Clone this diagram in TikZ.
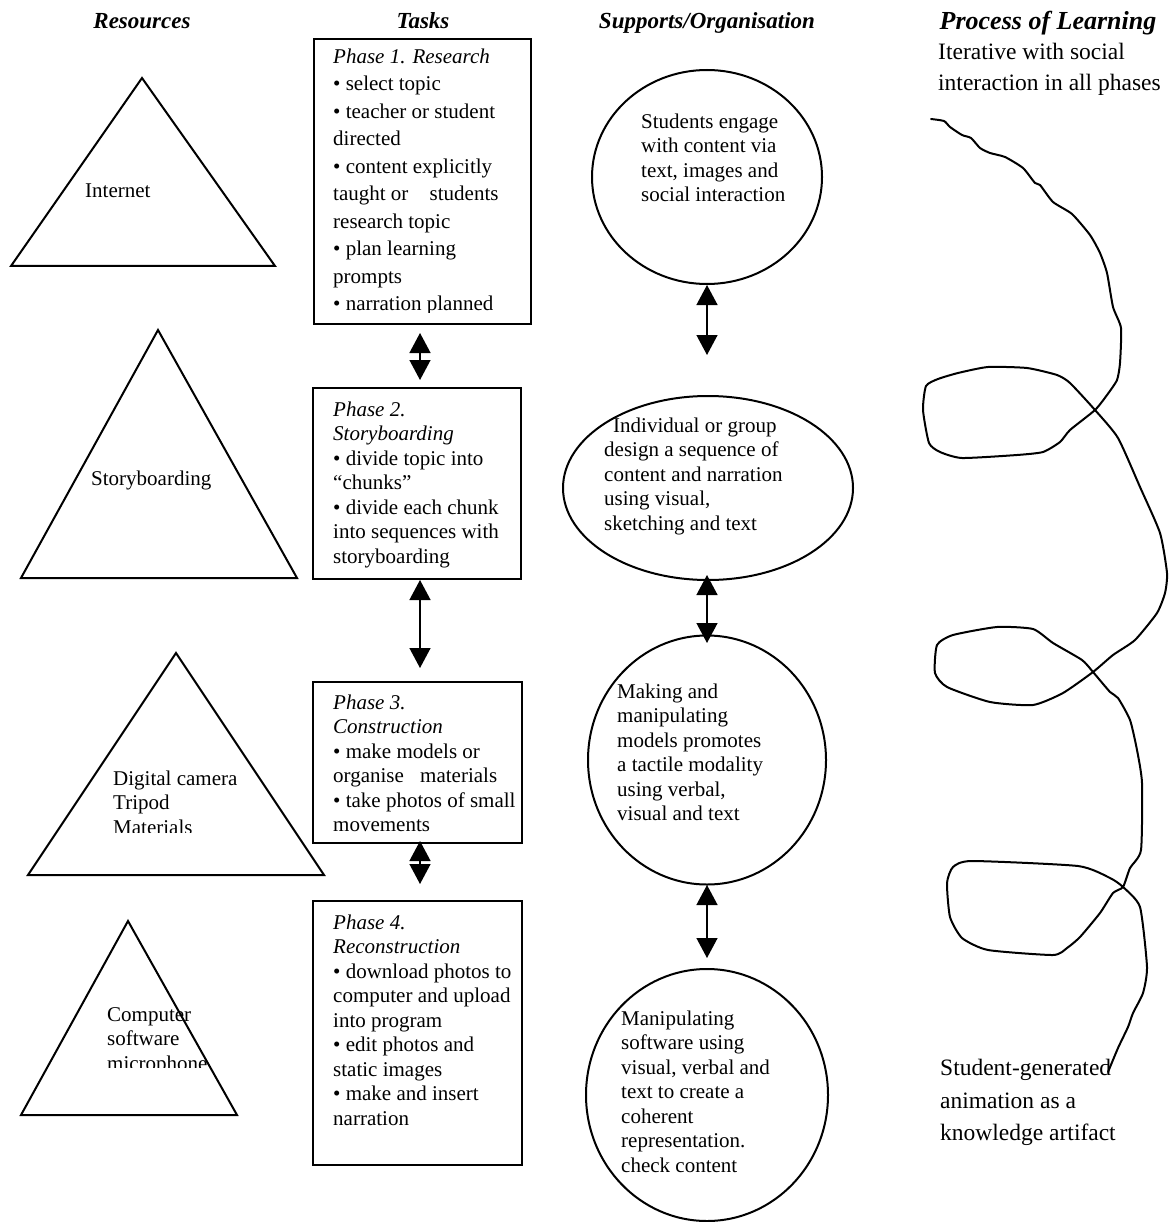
\documentclass[tikz,border=0pt]{standalone}
\usepackage{fontspec}
\setmainfont{Liberation Serif}
\usetikzlibrary{arrows.meta,shapes.geometric}
\newcommand\tstr{\rule{0pt}{16pt}}
\begin{document}
\begin{tikzpicture}[x=1pt,y=-1pt,
  txt/.style={anchor=north west, inner sep=0pt, align=left, font=\fontsize{21}{24.5}\selectfont},
  big/.style={anchor=north west, inner sep=0pt, align=left, font=\fontsize{23.5}{31.5}\selectfont},
  ttl/.style={anchor=base, inner sep=0pt, font=\fontsize{23}{26}\selectfont\bfseries\itshape},
  dbl/.style={{Triangle[length=20pt,width=21pt]}-{Triangle[length=20pt,width=21pt]}, line width=1.4pt},
  boxn/.style={draw, line width=2pt, anchor=north west, inner sep=0pt},
  ell/.style={draw, ellipse, line width=2pt, inner sep=0pt},
  tri/.style={draw, line width=2pt, line join=miter}
]
\useasboundingbox (0,0) rectangle (1171,1222);

% titles
\node[ttl] (h1) at (142,29) {Resources};
\node[ttl] (h2) at (423,29) {Tasks};
\node[ttl] (h3) at (707,29) {Supports/Organisation};
\node[ttl, font=\fontsize{26}{30}\selectfont\bfseries\itshape] (h4) at (1048,30) {Process of Learning};

% triangles
\draw[tri] (142,78) -- (275,266) -- (11,266) -- cycle;
\draw[tri] (158,330) -- (297,578) -- (21,578) -- cycle;
\draw[tri] (176,653) -- (324,875) -- (28,875) -- cycle;
\draw[tri] (128,921) -- (237,1115) -- (21,1115) -- cycle;
\node[txt] (r1) at (85,181) {\tstr Internet};
\node[txt] (r2) at (91,469) {\tstr Storyboarding};
\begin{scope}
\clip (100,740) rectangle (260,832);
\node[txt] (r3) at (113,769) {\tstr Digital camera\\Tripod\\Materials};
\end{scope}
\begin{scope}
\clip (95,990) rectangle (230,1067);
\node[txt] (r4) at (107,1005) {\tstr Computer\\software\\microphone};
\end{scope}

% boxes
\node[boxn, minimum width=217pt, minimum height=285pt] (b1) at (313,38) {};
\node[boxn, minimum width=208pt, minimum height=191pt] (b2) at (312,387) {};
\node[boxn, minimum width=209pt, minimum height=161pt] (b3) at (312,681) {};
\node[boxn, minimum width=209pt, minimum height=264pt] (b4) at (312,900) {};
\begin{scope}
\clip (315,40) rectangle (528,312);
\node[txt, font=\fontsize{21}{27.5}\selectfont] (t1) at (333,47) {\tstr\textit{Phase 1. Research}\\• select topic\\• teacher or student\\directed\\• content explicitly\\taught or\hspace{16pt} students\\research topic\\• plan learning\\prompts\\• narration planned};
\end{scope}
\node[txt] (t2) at (333,400) {\tstr\textit{Phase 2.}\\\textit{Storyboarding}\\• divide topic into\\“chunks”\\• divide each chunk\\into sequences with\\storyboarding};
\node[txt] (t3) at (333,693) {\tstr\textit{Phase 3.}\\\textit{Construction}\\• make models or\\organise\hspace{11pt} materials\\• take photos of small\\movements};
\node[txt] (t4) at (333,913) {\tstr\textit{Phase 4.}\\\textit{Reconstruction}\\• download photos to\\computer and upload\\into program\\• edit photos and\\static images\\• make and insert\\narration};

% ellipses
\node[ell, minimum width=230pt, minimum height=214pt] (e1) at (707,177) {};
\node[ell, minimum width=290pt, minimum height=184pt] (e2) at (708,488) {};
\node[ell, minimum width=238pt, minimum height=249pt] (e3) at (707,760) {};
\node[ell, minimum width=242pt, minimum height=252pt] (e4) at (707,1095) {};
\node[txt] (s1) at (641,112) {\tstr Students engage\\with content via\\text, images and\\social interaction};
\node[txt] (s2) at (604,416) {\tstr\hspace{9pt}Individual or group\\design a sequence of\\content and narration\\using visual,\\sketching and text};
\node[txt] (s3) at (617,682) {\tstr Making and\\manipulating\\models promotes\\a tactile modality\\using verbal,\\visual and text};
\node[txt] (s4) at (621,1009) {\tstr Manipulating\\software using\\visual, verbal and\\text to create a\\coherent\\representation.\\check content};

% arrows
\coordinate (a1a) at (420,333); \coordinate (a1b) at (420,380);
\coordinate (a2a) at (420,580); \coordinate (a2b) at (420,668);
\coordinate (a3a) at (420,841); \coordinate (a3b) at (420,884);
\coordinate (c1a) at (707,285); \coordinate (c1b) at (707,355);
\coordinate (c2a) at (707,575); \coordinate (c2b) at (707,643);
\coordinate (c3a) at (707,885); \coordinate (c3b) at (707,958);
\draw[dbl] (a1a) -- (a1b);
\draw[dbl] (a2a) -- (a2b);
\draw[dbl] (a3a) -- (a3b);
\draw[dbl] (c1a) -- (c1b);
\draw[dbl] (c2a) -- (c2b);
\draw[dbl] (c3a) -- (c3b);

% process labels
\node[big, font=\fontsize{23.5}{31}\selectfont] (p1) at (938,43) {\tstr Iterative with social\\interaction in all phases};
\node[big, font=\fontsize{23.5}{32.5}\selectfont] (p2) at (940,1059) {\tstr Student-generated\\animation as a\\knowledge artifact};

% spiral
\draw[line width=2pt, line join=round, line cap=round] plot[smooth, tension=0.35] coordinates {
(931,119) (944,121) (950,127) (962,135) (971,138) (980,148) (990,153) (1005,157) (1023,168) (1035,183) (1040,185) (1053,202) (1072,214) (1090,235) (1100,253) (1107,273) (1113,307) (1121,328) (1120,363) (1117,380) (1107,395) (1095,410) (1070,430) (1060,442) (1043,452) (1017,455) (962,458) (940,452) (929,443) (923,410) (926,386) (938,379) (958,373) (988,367) (1027,368) (1057,375) (1070,383) (1095,410) (1118,438) (1140,487) (1160,533) (1167,573) (1165,593) (1157,613) (1135,640) (1113,655) (1093,672) (1063,693) (1033,705) (990,702) (947,687) (935,673) (937,645) (953,635) (997,627) (1033,629) (1053,643) (1082,660) (1093,672) (1110,692) (1118,698) (1130,720) (1137,750) (1142,783) (1141,850) (1130,868) (1123,887) (1113,893) (1100,913) (1080,937) (1067,948) (1053,955) (988,950) (962,938) (950,917) (947,883) (953,867) (972,861) (1078,866) (1110,878) (1123,887) (1140,907) (1147,967) (1143,993) (1133,1013) (1128,1027) (1118,1048) (1108,1072)};
\end{tikzpicture}
\end{document}
